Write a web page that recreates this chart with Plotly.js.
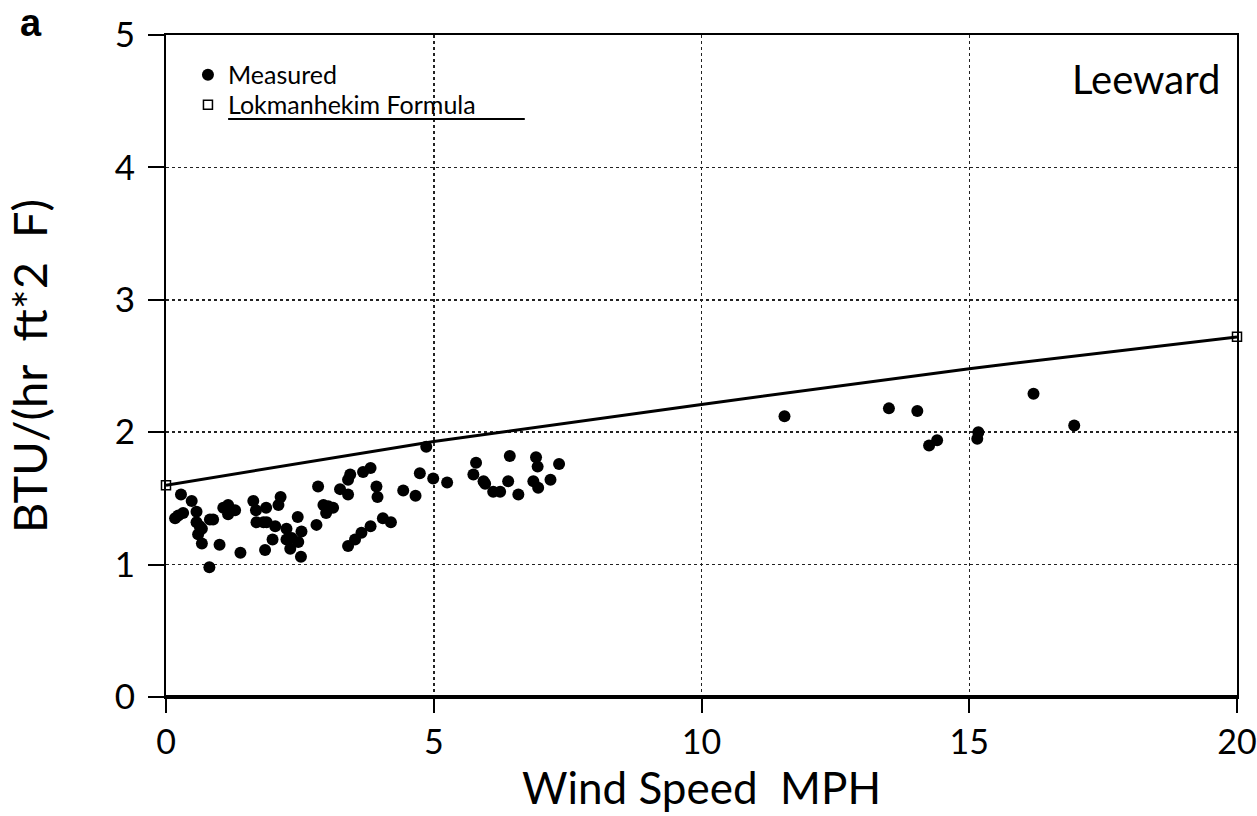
<!DOCTYPE html>
<html>
<head>
<meta charset="utf-8">
<script src="https://cdn.plot.ly/plotly-3.0.1.min.js"></script>
<style>
  html, body { margin: 0; padding: 0; background: #fff; }
  #chart { width: 1257px; height: 816px; }
</style>
</head>
<body>
<div id="chart"></div>
<script>
// Measured heat transfer coefficient vs wind speed (Leeward)
const measuredX = [0.28,0.48,0.17,0.23,0.32,0.57,0.57,0.63,0.67,0.60,0.67,0.82,0.88,0.81,1.00,1.07,1.16,1.23,1.29,1.16,1.39,1.63,1.68,1.87,1.69,1.82,1.88,2.04,2.14,2.10,1.99,1.85,2.25,2.25,2.35,2.32,2.46,2.53,2.47,2.52,2.81,2.84,
  3.25,3.40,3.40,3.44,3.68,3.82,3.93,3.95,2.94,3.03,3.12,2.99,3.40,3.53,3.65,3.82,4.05,4.20,4.43,4.66,4.74,4.86,4.99,5.25,
  5.79,5.74,5.93,5.96,6.42,6.11,6.24,6.39,6.58,6.91,6.94,6.86,6.95,7.18,7.34,
  11.55,13.50,14.03,14.25,14.40,15.17,15.15,16.20,16.96];
const measuredY = [1.53,1.48,1.35,1.37,1.39,1.40,1.32,1.29,1.27,1.23,1.16,1.34,1.34,0.98,1.15,1.43,1.45,1.41,1.41,1.38,1.09,1.48,1.41,1.43,1.32,1.32,1.32,1.29,1.51,1.45,1.19,1.11,1.27,1.19,1.20,1.12,1.36,1.25,1.17,1.06,1.30,1.59,
  1.57,1.53,1.64,1.68,1.70,1.73,1.59,1.51,1.45,1.44,1.43,1.39,1.14,1.19,1.24,1.29,1.35,1.32,1.56,1.52,1.69,1.89,1.65,1.62,
  1.77,1.68,1.63,1.61,1.82,1.55,1.55,1.63,1.53,1.81,1.74,1.63,1.58,1.64,1.76,
  2.12,2.18,2.16,1.90,1.94,2.00,1.95,2.29,2.05];

// Lokmanhekim formula curve
const formulaX = [0, 3, 5, 10, 15, 20];
const formulaY = [1.60, 1.80, 1.93, 2.21, 2.48, 2.72];

const xTicks = [0, 5, 10, 15, 20];
const yTicks = [0, 1, 2, 3, 4, 5];

const FONT = 'Lato, "Open Sans", sans-serif';

const traces = [
  {
    x: measuredX, y: measuredY, type: 'scatter', mode: 'markers',
    name: 'Measured', legend: 'legend',
    marker: { symbol: 'circle', size: 12, color: '#000' },
    cliponaxis: false
  },
  {
    x: formulaX, y: formulaY, type: 'scatter', mode: 'lines',
    name: 'Lokmanhekim Formula line', showlegend: false,
    line: { color: '#000', width: 3 },
    cliponaxis: false
  },
  {
    x: [formulaX[0], formulaX[formulaX.length - 1]],
    y: [formulaY[0], formulaY[formulaY.length - 1]],
    type: 'scatter', mode: 'markers',
    name: 'Lokmanhekim Formula', legend: 'legend2',
    marker: { symbol: 'square-open', size: 9, color: '#000', line: { width: 1.5, color: '#000' } },
    cliponaxis: false
  }
];

const legendCommon = {
  xanchor: 'left', yanchor: 'middle',
  bgcolor: 'rgba(0,0,0,0)', borderwidth: 0,
  font: { size: 25, family: FONT, color: '#000' },
  itemwidth: 30
};

const layout = {
  width: 1257, height: 816,
  margin: { l: 166, r: 20, t: 35, b: 119 },
  paper_bgcolor: '#fff', plot_bgcolor: '#fff',
  font: { family: FONT, color: '#000' },
  showlegend: true,
  legend: Object.assign({ x: 0.0205, y: 0.9396 }, legendCommon),
  legend2: Object.assign({ x: 0.0205, y: 0.8943 }, legendCommon),
  xaxis: {
    range: [0, 20], tickvals: xTicks, ticktext: xTicks.map(String),
    showline: true, linecolor: '#000', linewidth: 2, mirror: true,
    ticks: 'outside', ticklen: 14, tickwidth: 2, tickcolor: '#000',
    ticklabeloverflow: 'allow',
    tickfont: { size: 34, family: FONT },
    showgrid: true, gridcolor: '#222', griddash: 'dot', gridwidth: 1.5,
    zeroline: false,
    title: { text: 'Wind Speed\u00a0 MPH', font: { size: 44, family: FONT }, standoff: 12 }
  },
  yaxis: {
    range: [0, 5], tickvals: yTicks, ticktext: yTicks.map(String),
    showline: true, linecolor: '#000', linewidth: 2, mirror: true,
    ticks: 'outside', ticklen: 16, tickwidth: 2, tickcolor: '#000',
    ticklabelstandoff: 6,
    tickfont: { size: 35, family: FONT },
    showgrid: true, gridcolor: '#222', griddash: 'dot', gridwidth: 1.5,
    zeroline: false,
    title: { text: 'BTU/(hr\u00a0 ft*2\u00a0 F)', font: { size: 47, family: FONT }, standoff: 52 }
  },
  shapes: [
    { type: 'line', xref: 'x', yref: 'y', x0: 0, x1: 20, y0: 0, y1: 0, line: { color: '#000', width: 4 } },
    { type: 'line', xref: 'paper', yref: 'paper', x0: 0.058, x1: 0.335, y0: 0.8731, y1: 0.8731, line: { color: '#000', width: 2 } }
  ],
  annotations: [
    { text: 'Leeward', xref: 'paper', yref: 'paper', x: 0.986, y: 0.9335, xanchor: 'right', yanchor: 'middle',
      showarrow: false, font: { size: 40, family: FONT, color: '#000' } },
    { text: '<b>a</b>', xref: 'paper', yref: 'paper', x: -0.126, y: 1.0529, xanchor: 'center', yanchor: 'top',
      showarrow: false, font: { size: 38, family: '"Liberation Sans", Arial, sans-serif', color: '#000' } }
  ]
};

Plotly.newPlot('chart', traces, layout, { displayModeBar: false, staticPlot: true });
</script>
</body>
</html>
